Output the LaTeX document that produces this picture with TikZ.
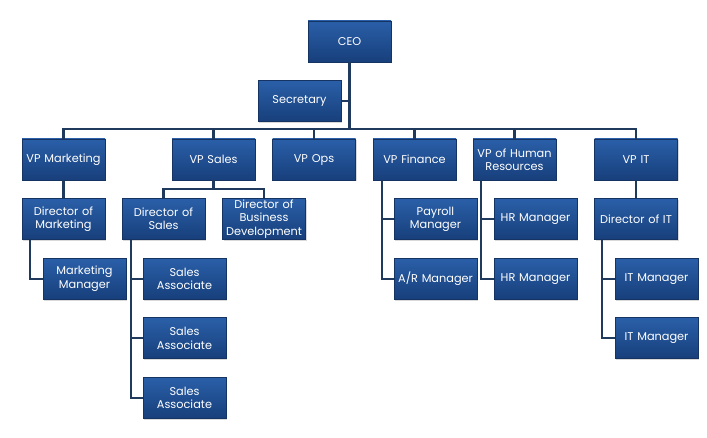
\documentclass[tikz,border=0pt]{standalone}
\usepackage{fontspec}
\setmainfont{Poppins}
\usepackage{xcolor}
\usepackage{tikz}
\usetikzlibrary{positioning,shadows}
\definecolor{boxtop}{HTML}{2A5FA8}
\definecolor{boxbot}{HTML}{173F7B}
\definecolor{boxline}{HTML}{153463}
\definecolor{wire}{HTML}{1F3A5C}

\begin{document}
\begin{tikzpicture}[
  x=1pt, y=1pt,
  node distance=18pt,
  box/.style={draw=boxline, line width=0.6pt, top color=boxtop, bottom color=boxbot,
              minimum width=83pt, minimum height=41pt, text width=81pt, inner sep=1pt,
              align=center, text=white, font=\fontsize{11.3}{13.2}\selectfont,
              drop shadow={opacity=0.3, shadow xshift=1.2pt, shadow yshift=-1.5pt}},
  link/.style={draw=wire, line width=2.2pt}
]
\useasboundingbox (0,0) rectangle (707,-438);
% top
\node[box] (ceo) at (349.5,-41.5) {CEO};
\node[box, below=of ceo, xshift=-50pt] (sec) {Secretary};
% vice presidents
\node[box] (vpm) at (63.5,-159.5) {VP Marketing};
\node[box] (vps) at (213.5,-159.5) {VP Sales};
\node[box] (vpo) at (314,-159.5) {VP Ops};
\node[box] (vpf) at (414.5,-159.5) {VP Finance};
\node[box] (vph) at (514.5,-159.5) {VP of Human\\Resources};
\node[box] (vpi) at (636,-159.5) {VP IT};
% marketing
\node[box, below=of vpm] (dirm) {Director of\\Marketing};
\node[box, below=of dirm, xshift=21pt] (mkm) {Marketing\\Manager};
% sales
\node[box, below=of vps, xshift=-50pt] (dirs) {Director of\\Sales};
\node[box, below=of vps, xshift=50.5pt] (dirb) {Director of\\Business\\Development};
\node[box, below=of dirs, xshift=21pt] (sa1) {Sales\\Associate};
\node[box, below=of sa1] (sa2) {Sales\\Associate};
\node[box, below=of sa2] (sa3) {Sales\\Associate};
% finance
\node[box, below=of vpf, xshift=21pt] (pay) {Payroll\\Manager};
\node[box, below=of pay] (ar) {A/R Manager};
% human resources
\node[box, below=of vph, xshift=21pt] (hr1) {HR Manager};
\node[box, below=of hr1] (hr2) {HR Manager};
% it
\node[box, below=of vpi] (dirit) {Director of IT};
\node[box, below=of dirit, xshift=20.5pt] (it1) {IT Manager};
\node[box, below=of it1] (it2) {IT Manager};

% connectors
\coordinate (bus) at (0,-129);
\coordinate (sbus) at (0,-189);
\draw[link] (ceo.south) -- (ceo.south |- bus);
\draw[link] (sec.east) -- (sec.east -| ceo.south);
\draw[link] (vpm.north) -- (vpm.north |- bus) -- (vpi.north |- bus) -- (vpi.north);
\foreach \v in {vps,vpo,vpf,vph} \draw[link] (\v.north) -- (\v.north |- bus);
\draw[link] (vpm) -- (dirm);
\draw[link] (vpi) -- (dirit);
\draw[link] ([xshift=8pt]dirm.south west) |- (mkm.west);
\draw[link] (vps.south) -- (vps.south |- sbus);
\draw[link] (dirs.north) |- (sbus -| vps.south) -| (dirb.north);
\foreach \s in {sa1,sa2,sa3} \draw[link] ([xshift=9pt]dirs.south west) |- (\s.west);
\foreach \s in {pay,ar} \draw[link] ([xshift=9pt]vpf.south west) |- (\s.west);
\foreach \s in {hr1,hr2} \draw[link] ([xshift=8pt]vph.south west) |- (\s.west);
\foreach \s in {it1,it2} \draw[link] ([xshift=8pt]dirit.south west) |- (\s.west);
\end{tikzpicture}
\end{document}
